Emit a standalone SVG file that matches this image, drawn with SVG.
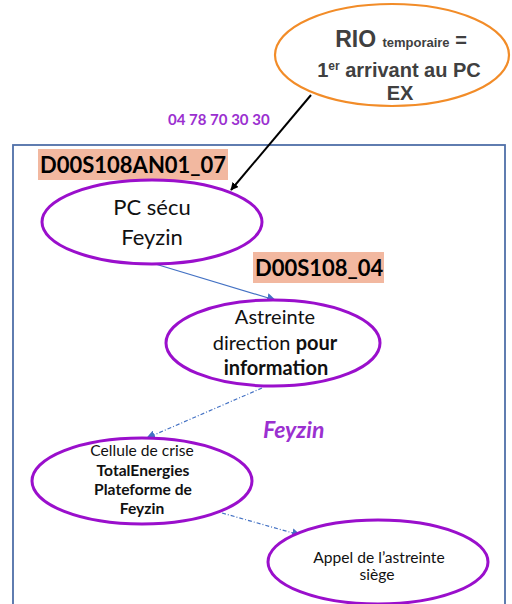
<svg xmlns="http://www.w3.org/2000/svg" width="512" height="604" viewBox="0 0 512 604">
<defs>
<style>
.ell{fill:#fff;stroke:#9A0FCC;stroke-width:3}
.t{font-family:Lato,"Open Sans","Liberation Sans",sans-serif;fill:#111;text-anchor:middle}
.b{font-weight:bold}
.lab{font-family:Lato,"Open Sans","Liberation Sans",sans-serif;font-weight:bold;font-size:22px;fill:#000}
.rio{font-family:"Liberation Sans",Arial,sans-serif;font-weight:bold;fill:#404040;text-anchor:middle}
.blue{stroke:#4472C4;stroke-width:1.2;fill:none}
</style>
<marker id="ab" viewBox="0 0 10 10" refX="9" refY="5" markerWidth="8" markerHeight="8" orient="auto" markerUnits="userSpaceOnUse"><path d="M0,0L10,5L0,10z" fill="#000"/></marker>
<marker id="ablue" viewBox="0 0 10 10" refX="9" refY="5" markerWidth="9" markerHeight="9" orient="auto" markerUnits="userSpaceOnUse"><path d="M0,0L10,5L0,10z" fill="#4472C4"/></marker>
</defs>
<rect width="512" height="604" fill="#fff"/>
<rect id="frame" x="13" y="145" width="492" height="470" fill="none" stroke="#4F6FA8" stroke-width="1.8"/>
<g id="connectors">
<line x1="311" y1="95" x2="231" y2="190" stroke="#000" stroke-width="2" marker-end="url(#ab)"/>
<line class="blue" x1="152" y1="263" x2="275" y2="300" marker-end="url(#ablue)"/>
<line class="blue" x1="262" y1="388" x2="147" y2="438" stroke-dasharray="4 2 1 2" marker-end="url(#ablue)"/>
<line class="blue" x1="222" y1="513" x2="300" y2="535" stroke-dasharray="4 2 1 2" marker-end="url(#ablue)"/>
</g>
<g id="rio">
<ellipse cx="392" cy="55" rx="117" ry="51" fill="#fff" stroke="#F28C28" stroke-width="2.2"/>
<text class="rio" x="401" y="47"><tspan font-size="23">RIO </tspan><tspan font-size="13">temporaire</tspan><tspan font-size="20"> =</tspan></text>
<text class="rio" x="399" y="77" font-size="20">1<tspan font-size="12" dy="-7">er</tspan><tspan dy="7"> arrivant au PC</tspan></text>
<text class="rio" x="400" y="100" font-size="20">EX</text>
</g>
<g id="phone">
<text x="168" y="125" font-family="Lato,'Open Sans',sans-serif" font-weight="bold" font-size="15" fill="#9B30D0">04 78 70 30 30</text>
</g>
<g id="label1">
<rect x="38" y="149" width="190" height="31" fill="#F2B8A0"/>
<text class="lab" x="40" y="173">D00S108AN01_07</text>
</g>
<g id="label2">
<rect x="253" y="252" width="131" height="31" fill="#F2B8A0"/>
<text class="lab" x="255" y="276">D00S108_04</text>
</g>
<g id="feyzin-label">
<text x="263" y="438" font-family="Lato,'Open Sans',sans-serif" font-weight="bold" font-style="italic" font-size="23" fill="#9B30D0">Feyzin</text>
</g>
<g id="pc-secu">
<ellipse class="ell" cx="152" cy="222" rx="110" ry="42"/>
<text class="t" x="152" y="215" font-size="22">PC sécu</text>
<text class="t" x="152" y="245" font-size="22">Feyzin</text>
</g>
<g id="astreinte">
<ellipse class="ell" cx="273" cy="343" rx="107" ry="43"/>
<text class="t" x="275" y="324" font-size="20">Astreinte</text>
<text class="t" x="275" y="350" font-size="20">direction <tspan class="b">pour</tspan></text>
<text class="t b" x="276" y="375" font-size="20">information</text>
</g>
<g id="cellule">
<ellipse class="ell" cx="142" cy="481" rx="110" ry="43"/>
<text class="t" x="142" y="456" font-size="15.6">Cellule de crise</text>
<text class="t b" x="143" y="476" font-size="15.6">TotalEnergies</text>
<text class="t b" x="143" y="495" font-size="15.6">Plateforme de</text>
<text class="t b" x="142" y="514" font-size="15.6">Feyzin</text>
</g>
<g id="appel">
<ellipse class="ell" cx="378" cy="562" rx="110" ry="42"/>
<text class="t" x="379" y="563" font-size="15.6">Appel de l’astreinte</text>
<text class="t" x="377" y="580" font-size="15.6">siège</text>
</g>
</svg>
